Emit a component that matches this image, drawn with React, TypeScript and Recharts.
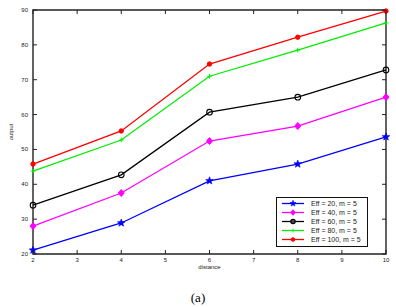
import React from "react";
import {
  LineChart,
  Line,
  XAxis,
  YAxis,
  Legend,
  ReferenceArea,
} from "recharts";

const distances = [2, 4, 6, 8, 10];
const eff20 = [21.1, 28.9, 41, 45.8, 53.6];
const eff40 = [28, 37.5, 52.4, 56.7, 65];
const eff60 = [34, 42.7, 60.7, 65, 72.8];
const eff80 = [43.8, 52.7, 71, 78.5, 86.3];
const eff100 = [45.8, 55.3, 74.5, 82.2, 89.7];

const xTicks = [2, 3, 4, 5, 6, 7, 8, 9, 10];
const yTicks = [20, 30, 40, 50, 60, 70, 80, 90];

const data = distances.map((d, i) => ({
  distance: d,
  e20: eff20[i],
  e40: eff40[i],
  e60: eff60[i],
  e80: eff80[i],
  e100: eff100[i],
}));

const series = [
  { key: "e20", name: "Eff = 20, m = 5", color: "#0000ff", marker: "star" },
  { key: "e40", name: "Eff = 40, m = 5", color: "#ff00ff", marker: "diamond" },
  { key: "e60", name: "Eff = 60, m = 5", color: "#000000", marker: "circle" },
  { key: "e80", name: "Eff = 80, m = 5", color: "#00ee00", marker: "plus" },
  { key: "e100", name: "Eff = 100, m = 5", color: "#ff0000", marker: "dot" },
];

const W = 396;
const H = 280;
const M = { top: 10, right: 10, bottom: 10, left: 8 };
const X_H = 16;
const Y_W = 25;
const PLOT_TOP = M.top;
const PLOT_BOTTOM = H - M.bottom - X_H;
const PLOT_LEFT = M.left + Y_W;
const PLOT_RIGHT = W - M.right;
const FONT = "'Liberation Sans', Arial, sans-serif";

function Marker({ kind, cx, cy, color, s = 1 }: { kind: string; cx: number; cy: number; color: string; s?: number }) {
  if (kind === "star") {
    const pts: string[] = [];
    for (let i = 0; i < 10; i++) {
      const r = (i % 2 === 0 ? 4 : 1.7) * s;
      const a = -Math.PI / 2 + (i * Math.PI) / 5;
      pts.push(`${cx + r * Math.cos(a)},${cy + r * Math.sin(a)}`);
    }
    return <polygon points={pts.join(" ")} fill={color} stroke={color} strokeWidth={0.6} />;
  }
  if (kind === "diamond") {
    return (
      <polygon
        points={`${cx},${cy - 3.5 * s} ${cx + 3 * s},${cy} ${cx},${cy + 3.5 * s} ${cx - 3 * s},${cy}`}
        fill={color}
        stroke={color}
      />
    );
  }
  if (kind === "circle") {
    return <circle cx={cx} cy={cy} r={2.8 * s} fill={s < 1 ? "#444" : "none"} stroke={color} strokeWidth={1.1} />;
  }
  if (kind === "plus") {
    return (
      <g stroke={color} strokeWidth={1}>
        <line x1={cx - 2.3 * s} x2={cx + 2.3 * s} y1={cy} y2={cy} />
        <line x1={cx} x2={cx} y1={cy - 2.3 * s} y2={cy + 2.3 * s} />
      </g>
    );
  }
  return <circle cx={cx} cy={cy} r={2.2 * s} fill={color} stroke={color} />;
}

const XTick = (props: any) => {
  const { x, y, payload } = props;
  return (
    <g>
      <line x1={x} x2={x} y1={PLOT_BOTTOM} y2={PLOT_BOTTOM - 4} stroke="#222" />
      <line x1={x} x2={x} y1={PLOT_TOP} y2={PLOT_TOP + 4} stroke="#222" />
      <text x={x} y={y} dy={6} textAnchor="middle" fontSize={6} fontFamily={FONT} fill="#222">
        {payload.value}
      </text>
    </g>
  );
};

const YTick = (props: any) => {
  const { x, y, payload } = props;
  return (
    <g>
      <line x1={PLOT_LEFT} x2={PLOT_LEFT + 4} y1={y} y2={y} stroke="#222" />
      <line x1={PLOT_RIGHT} x2={PLOT_RIGHT - 4} y1={y} y2={y} stroke="#222" />
      <text x={x} y={y} dy={2} textAnchor="end" fontSize={6} fontFamily={FONT} fill="#222">
        {payload.value}
      </text>
    </g>
  );
};

const LegendBox = () => (
  <div
    style={{
      border: "1.2px solid #111",
      background: "#fff",
      padding: "1px 2px 2px 4px",
      width: 84,
      boxSizing: "content-box",
    }}
  >
    {series.map((s) => (
      <div key={s.key} style={{ display: "flex", alignItems: "center", height: 9 }}>
        <svg width={24} height={9} style={{ flex: "none" }}>
          <line x1={1} x2={23} y1={4.5} y2={4.5} stroke={s.color} strokeWidth={1.3} />
          <Marker kind={s.marker} cx={12} cy={4.5} color={s.color} s={0.8} />
        </svg>
        <span style={{ fontSize: 7, fontFamily: FONT, color: "#222", marginLeft: 6, whiteSpace: "nowrap" }}>
          {s.name}
        </span>
      </div>
    ))}
  </div>
);

export default function App() {
  return (
    <div style={{ position: "absolute", left: 0, top: 0, width: W, height: 307, background: "#fff" }}>
      <LineChart width={W} height={H} data={data} margin={M}>
        <XAxis
          dataKey="distance"
          type="number"
          domain={[2, 10]}
          ticks={xTicks}
          height={X_H}
          axisLine={false}
          tickLine={false}
          tickSize={0}
          tickMargin={2}
          tick={<XTick />}
          label={{ value: "distance", position: "insideBottom", offset: 1, fontSize: 6, fontFamily: FONT, fill: "#222" }}
        />
        <YAxis
          type="number"
          domain={[20, 90]}
          ticks={yTicks}
          width={Y_W}
          axisLine={false}
          tickLine={false}
          tickSize={0}
          tickMargin={5}
          tick={<YTick />}
          label={(p: any) => {
            const vb = p.viewBox;
            const cx = vb.x + 5;
            const cy = vb.y + vb.height / 2;
            return (
              <text
                x={cx}
                y={cy}
                transform={`rotate(-90 ${cx} ${cy})`}
                textAnchor="middle"
                fontSize={6}
                fontFamily={FONT}
                fill="#222"
              >
                output
              </text>
            );
          }}
        />
        <ReferenceArea x1={2} x2={10} y1={20} y2={90} fill="none" stroke="#222" strokeWidth={1.4} />
        {series.map((s) => (
          <Line
            key={s.key}
            dataKey={s.key}
            name={s.name}
            stroke={s.color}
            strokeWidth={1.3}
            isAnimationActive={false}
            dot={(p: any) => (
              <Marker key={`${s.key}-${p.index}`} kind={s.marker} cx={p.cx} cy={p.cy} color={s.color} />
            )}
          />
        ))}
        <Legend
          layout="vertical"
          align="center"
          verticalAlign="middle"
          content={<LegendBox />}
          wrapperStyle={{ left: 276, top: 197, width: "auto" }}
        />
      </LineChart>
      <div
        style={{
          position: "absolute",
          top: 290,
          left: 0,
          width: W,
          textAlign: "center",
          fontFamily: "'Liberation Serif', serif",
          fontSize: 13,
          lineHeight: "16px",
        }}
      >
        (a)
      </div>
    </div>
  );
}
